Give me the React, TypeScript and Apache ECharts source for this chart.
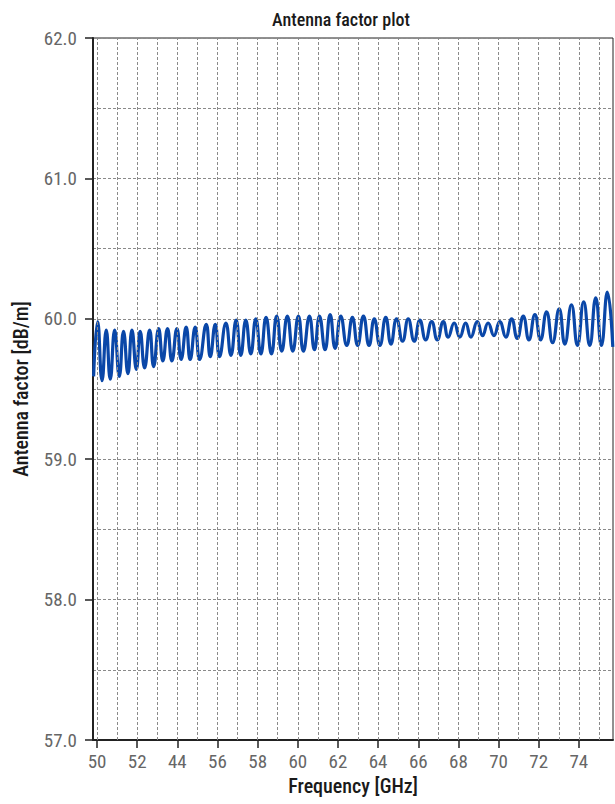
import React, { useEffect, useRef } from "react";
import * as echarts from "echarts";

const frequencies = [
  49.83, 50.03, 50.25, 50.46, 50.66, 50.88, 51.11, 51.32, 51.54, 51.74,
  51.96, 52.15, 52.37, 52.62, 52.82, 53.07, 53.28, 53.51, 53.73, 53.98,
  54.19, 54.44, 54.64, 54.89, 55.11, 55.44, 55.64, 55.89, 56.10, 56.42,
  56.67, 56.93, 57.16, 57.41, 57.66, 57.91, 58.16, 58.42, 58.69, 58.95,
  59.20, 59.48, 59.75, 60.03, 60.28, 60.58, 60.83, 61.08, 61.36, 61.61,
  61.86, 62.14, 62.44, 62.72, 62.98, 63.27, 63.55, 63.81, 64.09, 64.38,
  64.64, 64.92, 65.22, 65.50, 65.80, 66.08, 66.37, 66.67, 66.95, 67.25,
  67.49, 67.79, 68.07, 68.36, 68.62, 68.94, 69.20, 69.48, 69.77, 70.06,
  70.36, 70.65, 70.93, 71.23, 71.51, 71.81, 72.09, 72.39, 72.69, 73.02,
  73.30, 73.63, 73.93, 74.24, 74.54, 74.84, 75.12, 75.42, 75.69,
];

const antennaFactor = [
  59.59, 59.98, 59.56, 59.92, 59.57, 59.92, 59.59, 59.91, 59.61, 59.92,
  59.64, 59.91, 59.65, 59.92, 59.66, 59.93, 59.70, 59.93, 59.70, 59.93,
  59.71, 59.94, 59.71, 59.94, 59.71, 59.96, 59.73, 59.96, 59.73, 59.97,
  59.74, 59.99, 59.74, 59.99, 59.75, 60.00, 59.75, 60.01, 59.75, 60.02,
  59.77, 60.02, 59.77, 60.02, 59.77, 60.02, 59.78, 60.02, 59.78, 60.03,
  59.79, 60.02, 59.81, 60.01, 59.81, 60.02, 59.81, 60.00, 59.81, 60.01,
  59.82, 60.00, 59.84, 60.00, 59.84, 59.99, 59.85, 59.98, 59.85, 59.98,
  59.87, 59.97, 59.87, 59.97, 59.87, 59.98, 59.88, 59.97, 59.88, 59.98,
  59.87, 60.00, 59.86, 60.02, 59.85, 60.03, 59.85, 60.05, 59.83, 60.07,
  59.82, 60.10, 59.81, 60.12, 59.81, 60.15, 59.81, 60.19, 59.80,
];

const xTickValues = [50, 52, 54, 56, 58, 60, 62, 64, 66, 68, 70, 72, 74];
const xTickLabels = ["50", "52", "44", "56", "58", "60", "62", "64", "66", "68", "70", "72", "74"];
const xGridValues = [
  50, 51, 52, 53, 54, 55, 56, 57, 58, 59, 60, 61, 62, 63, 64, 65, 66, 67, 68,
  69, 70, 71, 72, 73, 74, 75,
];

const FONT = "'Liberation Sans Narrow', 'Roboto Condensed', 'Arial Narrow', Roboto, sans-serif";

export default function App() {
  const ref = useRef<HTMLDivElement>(null);

  useEffect(() => {
    if (!ref.current) return;
    const chart = echarts.init(ref.current, null, { renderer: "svg", width: 615, height: 804 });
    const gridStyle = { color: "#8a8a8a", width: 1, type: [3, 2] as any };
    chart.setOption({
      animation: false,
      backgroundColor: "#ffffff",
      title: {
        text: "Antenna factor plot",
        left: 336,
        top: 5,
        textAlign: "center",
        textStyle: { fontFamily: FONT, fontSize: 18, fontWeight: 500, color: "#1a1a1a" },
      },
      grid: {
        left: 93,
        right: 2,
        top: 38,
        bottom: 64,
        show: true,
        borderColor: "#222",
        borderWidth: 1,
        backgroundColor: "transparent",
      },
      xAxis: {
        type: "value",
        min: 49.8,
        max: 75.7,
        name: "Frequency [GHz]",
        nameLocation: "middle",
        nameGap: 36,
        nameTextStyle: { fontFamily: FONT, fontSize: 20, fontWeight: 500, color: "#1a1a1a" },
        axisLine: { show: true, onZero: false, lineStyle: { color: "#222", width: 2 } },
        axisTick: {
          show: true,
          customValues: xTickValues,
          length: 8,
          lineStyle: { color: "#222", width: 1.5 },
        },
        axisLabel: {
          customValues: xTickValues,
          margin: 12,
          fontFamily: FONT,
          fontSize: 19,
          color: "#666",
          formatter: (v: number) => {
            const i = xTickValues.findIndex((t) => Math.abs(t - v) < 1e-6);
            return i >= 0 ? xTickLabels[i] : "";
          },
        },
        splitLine: { show: false },
      },
      yAxis: {
        type: "value",
        min: 57,
        max: 62,
        interval: 1,
        name: "Antenna factor [dB/m]",
        nameLocation: "middle",
        nameGap: 62,
        nameTextStyle: { fontFamily: FONT, fontSize: 20, fontWeight: 500, color: "#1a1a1a" },
        axisLine: { show: true, lineStyle: { color: "#222", width: 2 } },
        axisTick: { show: true, length: 8, lineStyle: { color: "#222", width: 1.5 } },
        axisLabel: {
          margin: 16,
          fontFamily: FONT,
          fontSize: 19,
          color: "#666",
          formatter: (v: number) => v.toFixed(1),
        },
        splitLine: { show: true, lineStyle: gridStyle },
        minorTick: { show: false, splitNumber: 2 },
        minorSplitLine: { show: true, lineStyle: gridStyle },
      },
      series: [
        {
          type: "line",
          name: "grid",
          data: [],
          z: 1,
          silent: true,
          markLine: {
            silent: true,
            symbol: "none",
            label: { show: false },
            lineStyle: gridStyle,
            data: xGridValues.map((v) => ({ xAxis: v })),
          },
        },
        {
          type: "line",
          name: "Antenna factor",
          z: 3,
          data: frequencies.map((f, i) => [f, antennaFactor[i]]),
          showSymbol: false,
          smooth: 0.5,
          lineStyle: { color: "#0a47a8", width: 3.2 },
          itemStyle: { color: "#0a47a8" },
        },
      ],
    });
    return () => chart.dispose();
  }, []);

  return (
    <div
      ref={ref}
      style={{ position: "fixed", left: 0, top: 0, width: 615, height: 804, background: "#fff" }}
    />
  );
}
